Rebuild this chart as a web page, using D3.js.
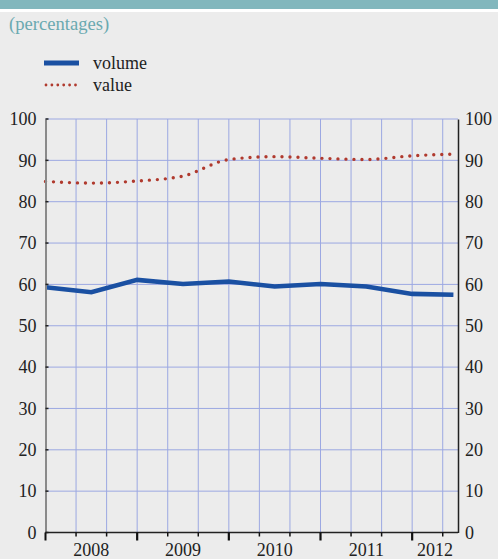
<!DOCTYPE html>
<html>
<head>
<meta charset="utf-8">
<script src="https://cdn.jsdelivr.net/npm/d3@7"></script>
<style>
  body { margin: 0; background: #ececec; }
  svg text { font-family: 'Liberation Serif', serif; }
</style>
</head>
<body>
<div class="chart"></div>
<script>
// half-year observations
const periods = [2008.0, 2008.5, 2009.0, 2009.5, 2010.0, 2010.5, 2011.0, 2011.5, 2012.0, 2012.45]
const volume = [59.3, 58.1, 61.1, 60.1, 60.7, 59.5, 60.1, 59.5, 57.7, 57.5]
const value = [84.9, 84.5, 85.0, 86.2, 90.2, 90.9, 90.5, 90.2, 91.1, 91.5]
const years = [2008, 2009, 2010, 2011, 2012]
const yTicks = [0, 10, 20, 30, 40, 50, 60, 70, 80, 90, 100]
const seriesNames = ['volume', 'value']

const W = 498, H = 559
const FONT = 'Liberation Serif'
const margin = ({top: 119, right: 40, bottom: 26, left: 45.5})

const svg = d3.select('.chart').append('svg')
    .attr('width', W)
    .attr('height', H)
    .style('font-family', FONT)

svg.append('rect').attr('width', W).attr('height', H).attr('fill', '#ececec')
svg.append('rect').attr('width', W).attr('height', 9).attr('fill', '#82b7bd')
svg.append('rect').attr('y', 9).attr('width', W).attr('height', 3).attr('fill', '#ffffff')

svg.append('text')
    .attr('x', 9)
    .attr('y', 30)
    .attr('font-size', 18.6)
    .attr('fill', '#6aa9b0')
    .text('(percentages)')

const x = d3.scaleLinear().domain([2008, 2012.5]).range([margin.left, W - margin.right])
const y = d3.scaleLinear().domain([0, 100]).range([H - margin.bottom - 0.5, margin.top])

// gridlines
const grid = svg.append('g').attr('stroke', '#9ca8e2').attr('stroke-width', 1)
yTicks.filter(t => t > 0).forEach(t =>
    grid.append('line')
        .attr('x1', x(2008)).attr('x2', x(2012.5))
        .attr('y1', y(t)).attr('y2', y(t))
)
const thirds = d3.range(1, 14).map(i => 2008 + i / 3)
thirds.forEach(t =>
    grid.append('line')
        .attr('x1', x(t)).attr('x2', x(t))
        .attr('y1', y(100)).attr('y2', y(0))
)

// lines
const line = d3.line()
    .x((d, i) => x(periods[i]))
    .y(d => y(d))

svg.append('path')
    .datum(value)
    .attr('d', line.curve(d3.curveMonotoneX))
    .attr('fill', 'none')
    .attr('stroke', '#b03a2e')
    .attr('stroke-width', 3.4)
    .attr('stroke-linecap', 'round')
    .attr('stroke-dasharray', '0 8')

svg.append('path')
    .datum(volume)
    .attr('d', line.curve(d3.curveLinear))
    .attr('fill', 'none')
    .attr('stroke', '#1a50a2')
    .attr('stroke-width', 4.6)

// y axes
const leftAxis = svg.append('g')
    .attr('transform', 'translate(' + x(2008) + ',0)')
    .call(d3.axisLeft(y).tickValues(yTicks).tickSize(0).tickPadding(9))
    .attr('font-family', FONT)
    .attr('font-size', 18)
leftAxis.select('.domain').attr('stroke', '#8a8a8a').attr('stroke-width', 2)
leftAxis.selectAll('text').attr('fill', '#222')
yTicks.forEach(t =>
    svg.append('line')
        .attr('x1', x(2008)).attr('x2', x(2008) + 3)
        .attr('y1', y(t)).attr('y2', y(t))
        .attr('stroke', '#222').attr('stroke-width', 1.5)
)

const rightAxis = svg.append('g')
    .attr('transform', 'translate(' + x(2012.5) + ',0)')
    .call(d3.axisRight(y).tickValues(yTicks).tickSize(0).tickPadding(7))
    .attr('font-family', FONT)
    .attr('font-size', 18)
rightAxis.select('.domain').attr('stroke', '#222').attr('stroke-width', 1.5)
rightAxis.selectAll('text').attr('fill', '#222')

// x axis
const base = y(0)
svg.append('line')
    .attr('x1', x(2008)).attr('x2', x(2012.5))
    .attr('y1', base).attr('y2', base)
    .attr('stroke', '#222').attr('stroke-width', 1.5)

thirds.forEach(t => {
    const major = Math.abs(t - Math.round(t)) < 1e-6
    svg.append('line')
        .attr('x1', x(t)).attr('x2', x(t))
        .attr('y1', base).attr('y2', base + (major ? 8 : 4))
        .attr('stroke', '#111').attr('stroke-width', major ? 2.2 : 1.5)
})
svg.append('line')
    .attr('x1', x(2008)).attr('x2', x(2008))
    .attr('y1', base).attr('y2', base + 8)
    .attr('stroke', '#111').attr('stroke-width', 2)

years.forEach(yr =>
    svg.append('text')
        .attr('x', x(Math.min(yr + 0.5, (yr + 2012.5) / 2)))
        .attr('y', H - 3.5)
        .attr('text-anchor', 'middle')
        .attr('font-size', 18)
        .attr('fill', '#222')
        .text(yr)
)

// legend
const legend = svg.append('g')
legend.append('line')
    .attr('x1', 44).attr('x2', 79).attr('y1', 63).attr('y2', 63)
    .attr('stroke', '#1a50a2').attr('stroke-width', 5)
legend.append('line')
    .attr('x1', 46).attr('x2', 79).attr('y1', 85).attr('y2', 85)
    .attr('stroke', '#b03a2e').attr('stroke-width', 2.8)
    .attr('stroke-linecap', 'round').attr('stroke-dasharray', '0 5.9')
seriesNames.forEach((s, i) =>
    legend.append('text')
        .attr('x', 93)
        .attr('y', 69 + i * 22)
        .attr('font-size', 18)
        .attr('fill', '#222')
        .text(s)
)
</script>
</body>
</html>
